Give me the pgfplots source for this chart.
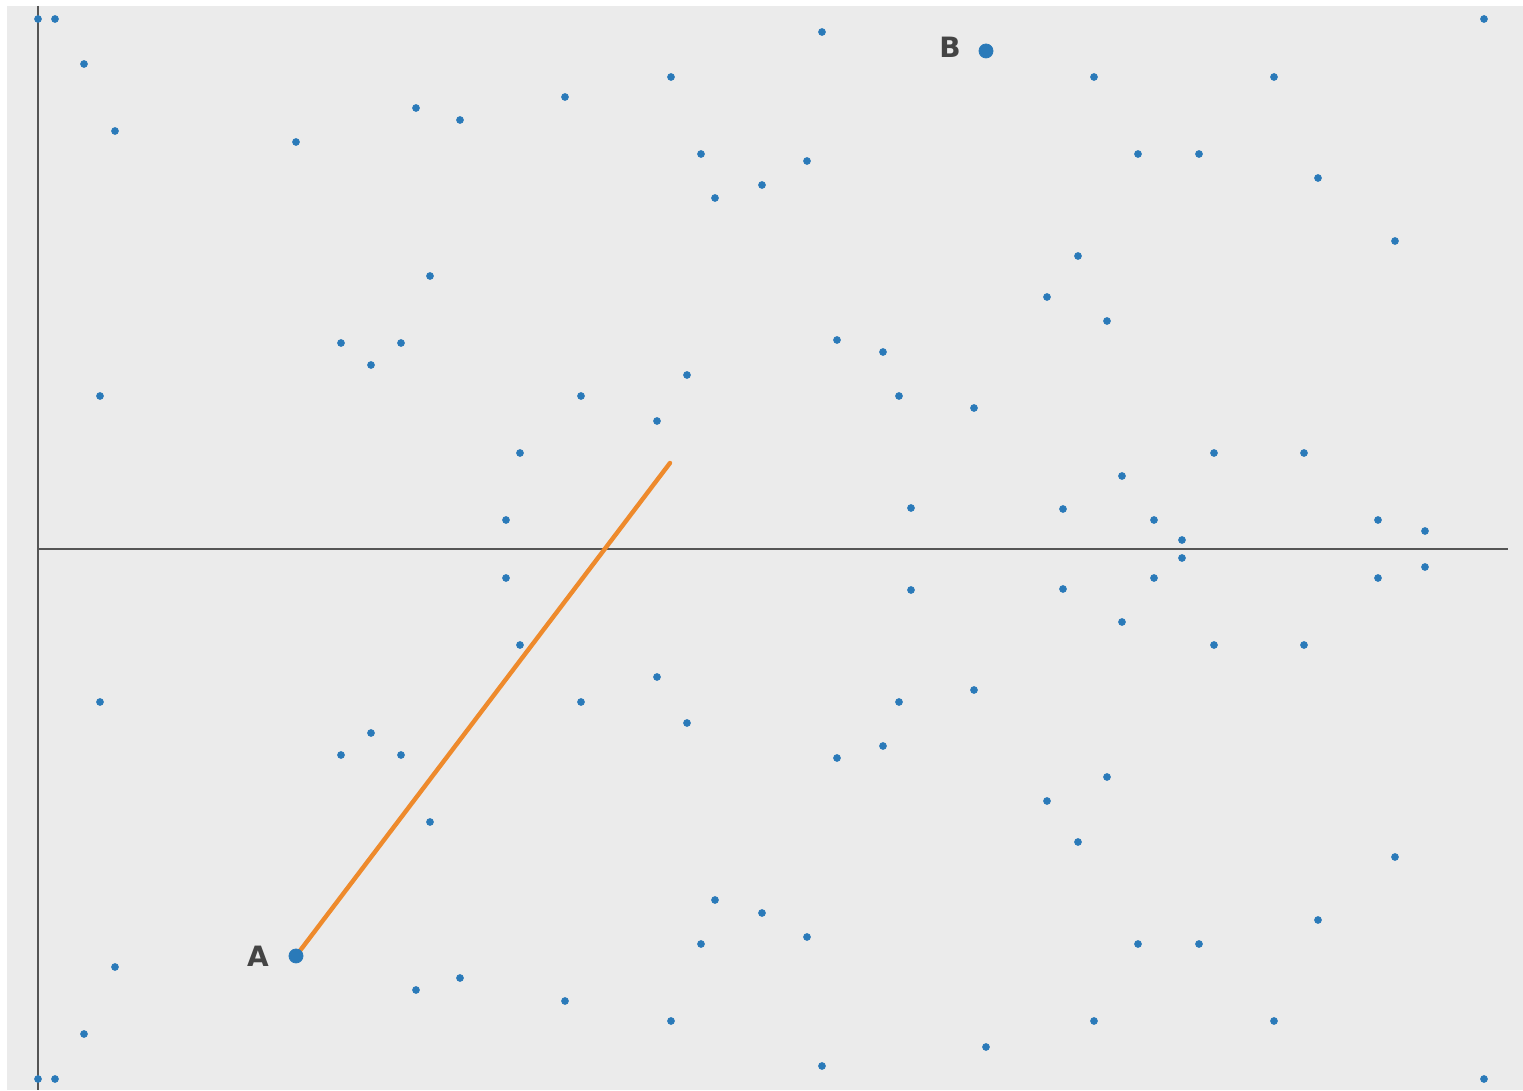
\documentclass[border=0pt]{standalone}
\usepackage{pgfplots}
\pgfplotsset{compat=1.18}
\usepackage{fontspec}
\setmainfont{DejaVu Sans}
\definecolor{bg}{HTML}{EBEBEB}
\definecolor{ptblue}{HTML}{2A7AB9}
\definecolor{lineor}{HTML}{EE8A2C}
\definecolor{axgray}{HTML}{555555}
\definecolor{lblgray}{HTML}{444444}
\begin{document}
\begin{tikzpicture}
\begin{axis}[
  scale only axis,
  width=761.5pt, height=545pt,
  xmin=-38, xmax=1485, ymin=-541, ymax=549,
  hide axis,
  clip=false,
]
\fill[bg] (axis cs:-31,543) rectangle (axis cs:1485,-541);
\path (axis cs:-38,-541) rectangle (axis cs:1485,549);
\draw[axgray, line width=1pt] (axis cs:0,543) -- (axis cs:0,-541);
\draw[axgray, line width=1pt] (axis cs:0,0) -- (axis cs:1470,0);
% small points
\addplot[only marks, mark=*, mark size=1.7pt, color=ptblue, mark options={draw=ptblue, fill=ptblue}] coordinates {
(0,530) (17,530) (46,485) (77,418) (258,407) (378,441) (422,429) (527,452)
(633,472) (784,517) (1056,472) (1236,472) (1446,530)
(663,395) (677,351) (724,364) (769,388) (1100,395) (1161,395) (1280,371)
(1357,308) (1040,293) (1009,252) (1069,228) (392,273) (303,206) (333,184)
(363,206) (62,153) (543,153) (649,174) (619,128) (799,209) (845,197)
(861,153) (936,141) (482,96) (468,29) (873,41) (1025,40) (1084,73)
(1176,96) (1266,96) (1116,29) (1144,9) (1340,29) (1387,18)
(0,-530) (17,-530) (46,-485) (77,-418) (378,-441) (422,-429) (527,-452)
(633,-472) (784,-517) (948,-498) (1056,-472) (1236,-472) (1446,-530)
(663,-395) (677,-351) (724,-364) (769,-388) (1100,-395) (1161,-395) (1280,-371)
(1357,-308) (1040,-293) (1009,-252) (1069,-228) (392,-273) (303,-206) (333,-184)
(363,-206) (62,-153) (543,-153) (649,-174) (619,-128) (799,-209) (845,-197)
(861,-153) (936,-141) (482,-96) (468,-29) (873,-41) (1025,-40) (1084,-73)
(1176,-96) (1266,-96) (1116,-29) (1144,-9) (1340,-29) (1387,-18)
};
% line from A
\addplot[lineor, line width=2.2pt, line cap=round, no marks] coordinates {(258,-407) (632,86)};
% A and B
\addplot[only marks, mark=*, mark size=3.5pt, color=ptblue, mark options={draw=ptblue, fill=ptblue}] coordinates {(258,-407) (948,498)};
\node[font=\fontsize{14}{16}\selectfont\bfseries, text=lblgray] at (axis cs:220,-407) {A};
\node[font=\fontsize{14}{16}\selectfont\bfseries, text=lblgray] at (axis cs:912,502) {B};
\end{axis}
\end{tikzpicture}
\end{document}
